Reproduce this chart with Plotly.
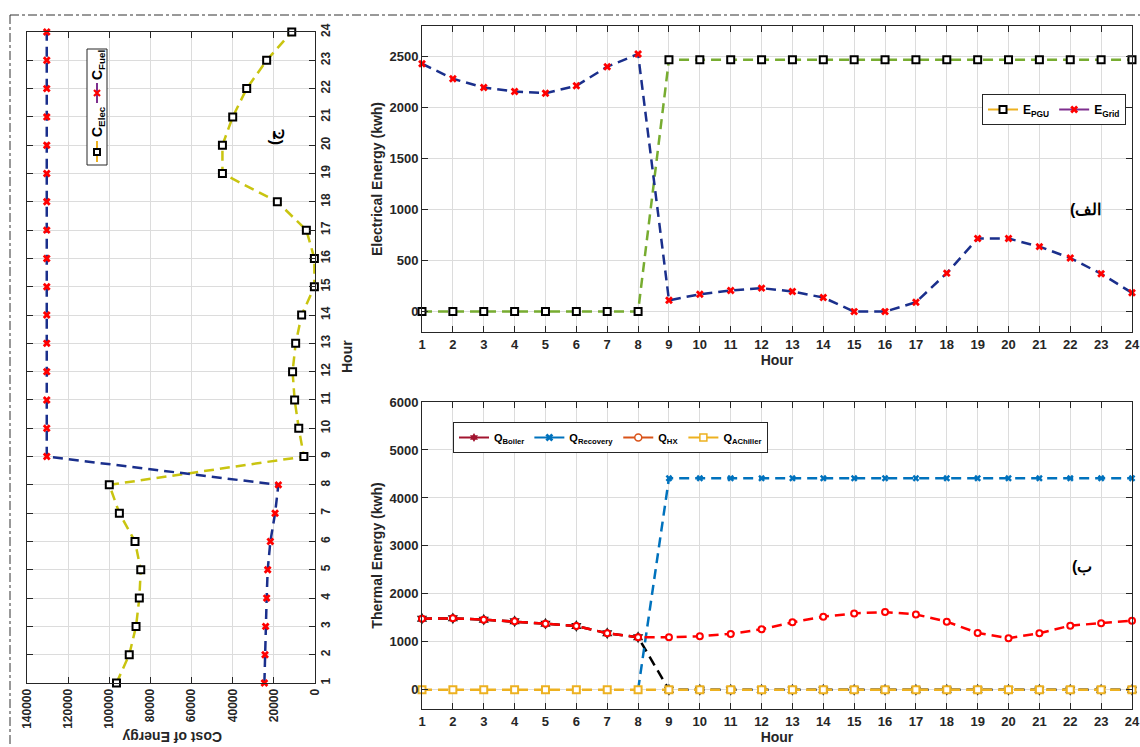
import plotly.graph_objects as go

W, H = 1140, 747
FONT = "Liberation Sans"
INK = "#262626"

# ---------------- data ----------------
hours = [1, 2, 3, 4, 5, 6, 7, 8, 9, 10, 11, 12, 13, 14, 15, 16, 17, 18, 19, 20, 21, 22, 23, 24]

# panel (ج) : cost of energy per hour
cost_elec = [96500, 90300, 87000, 85400, 84700, 87500, 95100, 100000,
             5400, 7900, 9900, 10900, 9400, 6500, 300, 300,
             4200, 18300, 45000, 45000, 40000, 33200, 23500, 11300]
cost_fuel = [24600, 24300, 24000, 23500, 23000, 21700, 19400, 17800,
             130400, 130400, 130400, 130400, 130400, 130400, 130400, 130400,
             130400, 130400, 130400, 130400, 130400, 130400, 130400, 130400]
cost_ticks = [0, 20000, 40000, 60000, 80000, 100000, 120000, 140000]

# panel (الف) : electrical energy
e_pgu = [0, 0, 0, 0, 0, 0, 0, 0,
         2470, 2470, 2470, 2470, 2470, 2470, 2470, 2470,
         2470, 2470, 2470, 2470, 2470, 2470, 2470, 2470]
e_grid = [2430, 2283, 2197, 2158, 2141, 2214, 2401, 2525,
          111, 170, 207, 230, 197, 138, 0, 0,
          92, 377, 716, 716, 637, 525, 371, 184]
elec_ticks = [0, 500, 1000, 1500, 2000, 2500]

# panel (ب) : thermal energy
q_boiler = [1483, 1490, 1462, 1428, 1379, 1331, 1179, 1097,
            0, 0, 0, 0, 0, 0, 0, 0, 0, 0, 0, 0, 0, 0, 0, 0]
q_recovery = [None, None, None, None, None, None, None, 0,
              4410, 4410, 4410, 4410, 4410, 4410, 4410, 4410,
              4410, 4410, 4410, 4410, 4410, 4410, 4410, 4410]
q_hx = [1483, 1490, 1462, 1428, 1379, 1331, 1179, 1097,
        1097, 1117, 1166, 1262, 1407, 1524, 1593, 1621,
        1572, 1421, 1186, 1076, 1179, 1338, 1386, 1441]
q_achiller = [0, 0, 0, 0, 0, 0, 0, 0, 0, 0, 0, 0,
              0, 0, 0, 0, 0, 0, 0, 0, 0, 0, 0, 0]
therm_ticks = [0, 1000, 2000, 3000, 4000, 5000, 6000]

# ---------------- helpers ----------------
def px(x):
    return x / W

def py(y):
    return 1 - y / H

DASH = "10px,6px"
C_NAVY = "#1a2f8c"
C_OLIVE = "#c9c410"
C_GREEN = "#77AC30"
C_BLUE = "#0072BD"
C_ORANGE = "#D95319"
C_YELLOW = "#EDB120"
C_PURPLE = "#7E2F8E"
C_DRED = "#A2142F"

tickfont = dict(family=FONT, size=13, color=INK, weight="bold")
titlefont = dict(family=FONT, size=14, color=INK, weight="bold")


def ax(**kw):
    d = dict(showline=True, linecolor=INK, linewidth=1, mirror="ticks",
             ticks="inside", ticklen=6, tickcolor=INK, tickwidth=1,
             showgrid=True, gridcolor="#dcdcdc", gridwidth=1, zeroline=False,
             tickfont=tickfont, automargin=False)
    d.update(kw)
    return d


def note(x, y, text, size=14, angle=0, font=None):
    return dict(xref="paper", yref="paper", x=px(x), y=py(y), text=text,
                textangle=angle, showarrow=False, xanchor="center", yanchor="middle",
                font=font or dict(family=FONT, size=size, color="black", weight="bold"))


fig = go.Figure()

# ---- panel ج (rotated) ----
fig.add_trace(go.Scatter(x=cost_elec, y=hours, xaxis="x", yaxis="y", mode="lines+markers",
                         line=dict(color=C_OLIVE, width=2.5, dash=DASH),
                         marker=dict(symbol="square", size=7, color="white",
                                     line=dict(color="black", width=2)),
                         cliponaxis=False, showlegend=False, name="C_Elec"))
fig.add_trace(go.Scatter(x=cost_fuel, y=hours, xaxis="x", yaxis="y", mode="lines+markers",
                         line=dict(color=C_NAVY, width=2.5, dash=DASH),
                         marker=dict(symbol="x", size=7, color="red"),
                         cliponaxis=False, showlegend=False, name="C_Fuel"))

# ---- panel الف ----
fig.add_trace(go.Scatter(x=hours, y=e_pgu, xaxis="x2", yaxis="y2", mode="lines+markers",
                         line=dict(color=C_GREEN, width=2.5, dash=DASH),
                         marker=dict(symbol="square", size=7, color="white",
                                     line=dict(color="black", width=2)),
                         cliponaxis=False, showlegend=False, name="E_PGU"))
fig.add_trace(go.Scatter(x=hours, y=e_grid, xaxis="x2", yaxis="y2", mode="lines+markers",
                         line=dict(color=C_NAVY, width=2.5, dash=DASH),
                         marker=dict(symbol="x", size=7, color="red"),
                         cliponaxis=False, showlegend=False, name="E_Grid"))
# legend entries (as in the reference, legend colours differ from the drawn lines)
fig.add_trace(go.Scatter(x=[None], y=[None], xaxis="x2", yaxis="y2", mode="lines+markers",
                         line=dict(color=C_YELLOW, width=2),
                         marker=dict(symbol="square", size=7, color="white",
                                     line=dict(color="black", width=2)),
                         name="E<sub>PGU</sub>", legend="legend"))
fig.add_trace(go.Scatter(x=[None], y=[None], xaxis="x2", yaxis="y2", mode="lines+markers",
                         line=dict(color=C_PURPLE, width=2),
                         marker=dict(symbol="x", size=7, color="red"),
                         name="E<sub>Grid</sub>", legend="legend"))

# ---- panel ب ----
fig.add_trace(go.Scatter(x=hours, y=q_boiler, xaxis="x3", yaxis="y3", mode="lines+markers",
                         line=dict(color="black", width=2.5, dash=DASH),
                         marker=dict(symbol="hexagram", size=9, color="#222222"),
                         cliponaxis=False, showlegend=False, name="Q_Boiler"))
fig.add_trace(go.Scatter(x=hours, y=q_recovery, xaxis="x3", yaxis="y3", mode="lines+markers",
                         line=dict(color=C_BLUE, width=2.5, dash=DASH),
                         marker=dict(symbol="x", size=6, color=C_BLUE),
                         cliponaxis=False, showlegend=False, name="Q_Recovery"))
fig.add_trace(go.Scatter(x=hours, y=q_hx, xaxis="x3", yaxis="y3", mode="lines+markers",
                         line=dict(color="red", width=2.5, dash=DASH),
                         marker=dict(symbol="circle", size=6, color="white",
                                     line=dict(color="red", width=2)),
                         cliponaxis=False, showlegend=False, name="Q_HX"))
fig.add_trace(go.Scatter(x=hours, y=q_achiller, xaxis="x3", yaxis="y3", mode="lines+markers",
                         line=dict(color=C_YELLOW, width=2.5, dash=DASH),
                         marker=dict(symbol="square", size=7, color="white",
                                     line=dict(color=C_YELLOW, width=2)),
                         cliponaxis=False, showlegend=False, name="Q_AChiller"))
for nm, col, sym, fill in [("Q<sub>Boiler</sub>", C_DRED, "hexagram", C_DRED),
                           ("Q<sub>Recovery</sub>", C_BLUE, "x", C_BLUE),
                           ("Q<sub>HX</sub>", C_ORANGE, "circle", "white"),
                           ("Q<sub>AChiller</sub>", C_YELLOW, "square", "white")]:
    fig.add_trace(go.Scatter(x=[None], y=[None], xaxis="x3", yaxis="y3", mode="lines+markers",
                             line=dict(color=col, width=2),
                             marker=dict(symbol=sym, size=7, color=fill,
                                         line=dict(color=col, width=1.5 if fill == "white" else 0)),
                             name=nm, legend="legend2"))

# ---------------- layout ----------------
layout = dict(
    width=W, height=H, margin=dict(l=0, r=0, t=0, b=0),
    paper_bgcolor="white", plot_bgcolor="white",
    font=dict(family=FONT, color=INK),
    xaxis=ax(domain=[px(27), px(315)], range=[140000, 0], anchor="y",
             tickvals=cost_ticks, ticktext=[str(v) for v in cost_ticks], tickangle=-90,
             tickfont=dict(family=FONT, size=12, color=INK, weight="bold")),
    yaxis=ax(domain=[py(683), py(32)], range=[1, 24], anchor="x", side="right",
             tickvals=hours, tickangle=-90,
             tickfont=dict(family=FONT, size=12, color=INK, weight="bold")),
    xaxis2=ax(domain=[px(422), px(1132)], range=[1, 24], anchor="y2", tickvals=hours,
              title=dict(text="Hour", font=titlefont, standoff=4)),
    yaxis2=ax(domain=[py(332), py(26)], range=[-200, 2800], anchor="x2", tickvals=elec_ticks,
              title=dict(text="Electrical Energy (kwh)", font=titlefont, standoff=3)),
    xaxis3=ax(domain=[px(422), px(1132)], range=[1, 24], anchor="y3", tickvals=hours,
              title=dict(text="Hour", font=titlefont, standoff=4)),
    yaxis3=ax(domain=[py(709), py(402)], range=[-400, 6000], anchor="x3", tickvals=therm_ticks,
              title=dict(text="Thermal Energy (kwh)", font=titlefont, standoff=3)),
    legend=dict(x=px(982), y=py(94), xanchor="left", yanchor="top", orientation="h",
                bgcolor="white", bordercolor=INK, borderwidth=1,
                font=dict(family=FONT, size=12, color="black", weight="bold"),
                itemwidth=30, tracegroupgap=0),
    legend2=dict(x=px(453), y=py(422), xanchor="left", yanchor="top", orientation="h",
                 bgcolor="white", bordercolor=INK, borderwidth=1,
                 font=dict(family=FONT, size=11, color="black", weight="bold"),
                 itemwidth=30, tracegroupgap=0),
)

shapes = []
annotations = []
# outer dash-dot frame
shapes.append(dict(type="line", xref="paper", yref="paper", x0=px(10), x1=1, y0=py(15), y1=py(15),
                   line=dict(color="#333333", width=1, dash="dashdot")))
shapes.append(dict(type="line", xref="paper", yref="paper", x0=px(10), x1=px(10), y0=py(15), y1=0,
                   line=dict(color="#333333", width=1, dash="dashdot")))

# rotated legend of panel ج
shapes.append(dict(type="rect", xref="paper", yref="paper", x0=px(87), x1=px(107), y0=py(165), y1=py(49),
                   line=dict(color=INK, width=1), fillcolor="white", layer="above"))
shapes.append(dict(type="line", xref="paper", yref="paper", x0=px(97), x1=px(97), y0=py(162), y1=py(141),
                   line=dict(color=C_YELLOW, width=2), layer="above"))
shapes.append(dict(type="rect", xref="paper", yref="paper", x0=px(94), x1=px(100), y0=py(155), y1=py(149),
                   line=dict(color="black", width=2), fillcolor="white", layer="above"))
shapes.append(dict(type="line", xref="paper", yref="paper", x0=px(97), x1=px(97), y0=py(103), y1=py(83),
                   line=dict(color=C_PURPLE, width=2), layer="above"))
shapes.append(dict(type="path", xref="paper", yref="paper", layer="above",
                   path=f"M{px(94)},{py(90)} L{px(100)},{py(96)} M{px(94)},{py(96)} L{px(100)},{py(90)}",
                   line=dict(color="red", width=2.2)))
annotations.append(note(98, 122, "C<sub>Elec</sub>", size=14, angle=-90))
annotations.append(note(98, 65, "C<sub>Fuel</sub>", size=14, angle=-90))
# titles of the rotated panel
annotations.append(note(172, 737, "Cost of Energy", angle=180, font=titlefont))
annotations.append(note(347, 357, "Hour", angle=-90, font=titlefont))
# panel labels
annotations.append(note(275, 137, "\u202bج)\u202c", size=16, angle=-90))
annotations.append(note(1085, 210, "\u202bالف)\u202c", size=16))
annotations.append(note(1082, 567, "\u202bب)\u202c", size=16))

layout["shapes"] = shapes
layout["annotations"] = annotations
fig.update_layout(**layout)

fig.write_html("out.html", config={"displayModeBar": False},
               post_script="document.body.style.margin='0';document.body.style.overflow='hidden';")
